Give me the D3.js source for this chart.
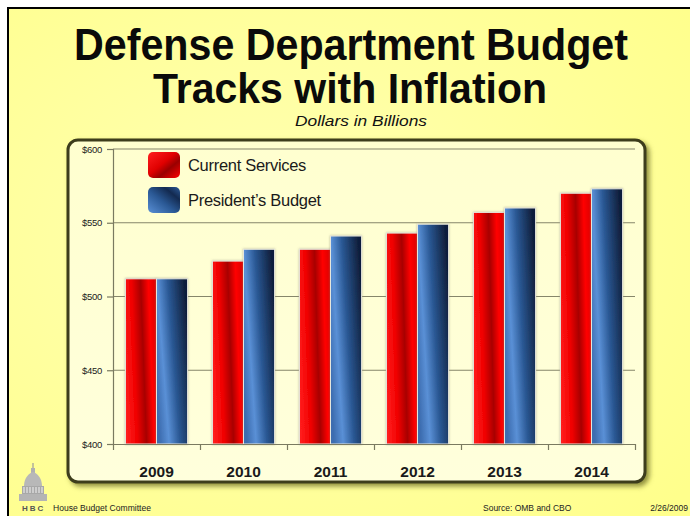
<!DOCTYPE html>
<html>
<head>
<meta charset="utf-8">
<script src="https://cdn.jsdelivr.net/npm/d3@7"></script>
<style>
  body { margin: 0; background: #fff; }
  svg { display: block; font-family: 'Liberation Sans', Arial, sans-serif; }
</style>
</head>
<body>
<svg id="chart" width="690" height="516"></svg>
<script>
const years = ['2009', '2010', '2011', '2012', '2013', '2014'];
const series = ['Current Services', "President\u2019s Budget"];
const currentServices = [512, 524, 532, 543, 557, 570];
const presidentsBudget = [512, 532, 541, 549, 560, 573];
const yTicks = [400, 450, 500, 550, 600];

const svg = d3.select('#chart');
const defs = svg.append('defs');

// slide background
const bg = defs.append('radialGradient').attr('id', 'slideBg').attr('cx', '40%').attr('cy', '45%').attr('r', '75%');
bg.append('stop').attr('offset', '0%').attr('stop-color', '#ffffb4');
bg.append('stop').attr('offset', '100%').attr('stop-color', '#ffff8c');

const panelBg = defs.append('linearGradient').attr('id', 'panelBg').attr('x1', 0).attr('y1', 0).attr('x2', 0).attr('y2', 1);
panelBg.append('stop').attr('offset', '0%').attr('stop-color', '#ffffcf');
panelBg.append('stop').attr('offset', '100%').attr('stop-color', '#ffffdc');

const redGrad = defs.append('linearGradient').attr('id', 'redGrad')
  .attr('x1', 0).attr('y1', 0.6).attr('x2', 1).attr('y2', 0.4);
[['0%', '#ff1a1a'], ['30%', '#f00000'], ['58%', '#a80000'], ['82%', '#ff0505'], ['100%', '#e40000']]
  .forEach(s => redGrad.append('stop').attr('offset', s[0]).attr('stop-color', s[1]));

const blueGrad = defs.append('linearGradient').attr('id', 'blueGrad')
  .attr('x1', 0).attr('y1', 0.7).attr('x2', 1).attr('y2', 0.3);
[['0%', '#3d6db0'], ['25%', '#5a90d6'], ['55%', '#2a5894'], ['100%', '#101f3c']]
  .forEach(s => blueGrad.append('stop').attr('offset', s[0]).attr('stop-color', s[1]));

const redSw = defs.append('linearGradient').attr('id', 'redSw').attr('x1', 0).attr('y1', 0).attr('x2', 1).attr('y2', 1);
[['0%', '#ff2020'], ['45%', '#e00000'], ['65%', '#9a0000'], ['100%', '#ff0000']]
  .forEach(s => redSw.append('stop').attr('offset', s[0]).attr('stop-color', s[1]));
const blueSw = defs.append('linearGradient').attr('id', 'blueSw').attr('x1', 0).attr('y1', 1).attr('x2', 1).attr('y2', 0);
[['0%', '#5a90d6'], ['45%', '#2a5894'], ['75%', '#132a50'], ['100%', '#2c5a98']]
  .forEach(s => blueSw.append('stop').attr('offset', s[0]).attr('stop-color', s[1]));

const shadow = defs.append('filter').attr('id', 'panelShadow').attr('x', '-5%').attr('y', '-5%').attr('width', '115%').attr('height', '115%');
shadow.append('feDropShadow').attr('dx', 3).attr('dy', 3).attr('stdDeviation', 2.5)
  .attr('flood-color', '#6b6b20').attr('flood-opacity', 0.75);

const barShadow = defs.append('filter').attr('id', 'barShadow').attr('x', '-20%').attr('y', '-5%').attr('width', '140%').attr('height', '110%');
barShadow.append('feDropShadow').attr('dx', 0).attr('dy', 0).attr('stdDeviation', 1.2)
  .attr('flood-color', '#888870').attr('flood-opacity', 0.6);

// slide
svg.append('rect').attr('x', 8).attr('y', 8).attr('width', 690).attr('height', 520)
  .attr('fill', 'url(#slideBg)').attr('stroke', '#000').attr('stroke-width', 2);

// titles
svg.append('text').attr('x', 351).attr('y', 60).attr('text-anchor', 'middle')
  .attr('font-size', 44).attr('font-weight', 'bold').attr('fill', '#0a0a0a')
  .attr('textLength', 554).attr('lengthAdjust', 'spacingAndGlyphs')
  .text('Defense Department Budget');
svg.append('text').attr('x', 350).attr('y', 103).attr('text-anchor', 'middle')
  .attr('font-size', 42).attr('font-weight', 'bold').attr('fill', '#0a0a0a')
  .attr('textLength', 394).attr('lengthAdjust', 'spacingAndGlyphs')
  .text('Tracks with Inflation');
svg.append('text').attr('x', 361).attr('y', 125.5).attr('text-anchor', 'middle')
  .attr('font-size', 14).attr('font-style', 'italic').attr('fill', '#111')
  .attr('textLength', 132).attr('lengthAdjust', 'spacingAndGlyphs')
  .text('Dollars in Billions');

// chart panel
svg.append('rect').attr('x', 68).attr('y', 140).attr('width', 577).attr('height', 342)
  .attr('rx', 10).attr('fill', 'url(#panelBg)').attr('stroke', '#3c3c1c').attr('stroke-width', 3)
  .attr('filter', 'url(#panelShadow)');

const margin = { left: 113, right: 635, top: 149, bottom: 444 };

const x = d3.scaleBand().domain(years).range([margin.left, margin.right]).padding(0);
const xSub = d3.scaleBand().domain(series).range([0, x.bandwidth()]).paddingInner(0).paddingOuter(0.4);
const y = d3.scaleLinear().domain([400, 600]).range([margin.bottom, margin.top]);

const g = svg.append('g');

// gridlines
g.append('g').selectAll('line').data(yTicks.filter(d => d > 400)).enter().append('line')
  .attr('x1', margin.left).attr('x2', margin.right)
  .attr('y1', d => y(d)).attr('y2', d => y(d))
  .attr('stroke', '#86866a').attr('stroke-width', 1.2);

// bars
const rows = years.map((yr, i) => ({ year: yr, values: [currentServices[i], presidentsBudget[i]] }));
const groups = g.selectAll('.yr').data(rows).enter().append('g')
  .attr('transform', d => `translate(${x(d.year)},0)`);
groups.selectAll('rect').data(d => d.values.map((v, j) => ({ key: series[j], v, j }))).enter().append('rect')
  .attr('x', d => xSub(d.key))
  .attr('y', d => y(d.v))
  .attr('width', xSub.bandwidth())
  .attr('height', d => y(400) - y(d.v))
  .attr('fill', d => d.j === 0 ? 'url(#redGrad)' : 'url(#blueGrad)')
  .attr('stroke', '#e6e6dc').attr('stroke-width', 1)
  .attr('filter', 'url(#barShadow)');

// y axis
const yAxis = g.append('g').attr('transform', `translate(${margin.left},0)`)
  .call(d3.axisLeft(y).tickValues(yTicks).tickFormat(d => '$' + d).tickSize(6).tickPadding(5));
yAxis.select('.domain').attr('stroke', '#7a7a60').attr('stroke-width', 1.2);
yAxis.selectAll('.tick line').attr('stroke', '#7a7a60').attr('stroke-width', 1.2);
yAxis.selectAll('.tick text').attr('font-size', 9.5).attr('fill', '#222')
  .attr('font-family', "'Liberation Sans', Arial, sans-serif").attr('letter-spacing', -0.3);

// x axis: tick marks at band edges, labels at band centers
const xEdge = d3.scaleLinear().domain([0, years.length]).range([margin.left, margin.right]);
const xTickAxis = g.append('g').attr('transform', `translate(0,${margin.bottom})`)
  .call(d3.axisBottom(xEdge).ticks(years.length).tickFormat('').tickSize(6).tickSizeOuter(0));
xTickAxis.select('.domain').attr('stroke', '#7a7a60').attr('stroke-width', 1.2);
xTickAxis.selectAll('.tick line').attr('stroke', '#7a7a60').attr('stroke-width', 1.2);

const xAxis = g.append('g').attr('transform', `translate(0,${margin.bottom})`)
  .call(d3.axisBottom(x).tickSize(0).tickPadding(22));
xAxis.select('.domain').remove();
xAxis.selectAll('.tick text').attr('font-size', 15.5).attr('font-weight', 'bold').attr('fill', '#1a1a1a')
  .attr('font-family', "'Liberation Sans', Arial, sans-serif");

// legend
const legend = svg.append('g').attr('transform', 'translate(148,152)');
series.forEach((s, i) => {
  const row = legend.append('g').attr('transform', `translate(0,${i * 35})`);
  row.append('rect').attr('width', 32).attr('height', 26).attr('rx', 5)
    .attr('fill', i === 0 ? 'url(#redSw)' : 'url(#blueSw)');
  row.append('text').attr('x', 40).attr('y', 18.5).attr('font-size', 16.5).attr('fill', '#1a1a1a')
    .attr('letter-spacing', -0.3).text(s);
});

// footer: capitol icon
const cap = svg.append('g').attr('transform', 'translate(33,0)').attr('fill', '#9c9c9c');
cap.append('rect').attr('x', -0.6).attr('y', 463).attr('width', 1.2).attr('height', 6);
cap.append('rect').attr('x', -2).attr('y', 468).attr('width', 4).attr('height', 5).attr('fill', '#b0b0b0');
cap.append('path').attr('d', 'M-9,486 C-9,478 -4,473 0,472 C4,473 9,478 9,486 Z').attr('fill', '#b8b8b8');
cap.append('rect').attr('x', -11).attr('y', 486).attr('width', 22).attr('height', 8).attr('fill', '#a8a8a8');
cap.append('rect').attr('x', -14).attr('y', 494).attr('width', 28).attr('height', 7).attr('fill', '#b4b4b4');
d3.range(-9, 10, 3).forEach(cx => cap.append('rect').attr('x', cx - 0.6).attr('y', 487).attr('width', 1.2).attr('height', 6).attr('fill', '#e6e6e6'));

svg.append('text').attr('x', 22).attr('y', 511).attr('font-size', 8).attr('font-weight', 'bold')
  .attr('fill', '#555').attr('letter-spacing', 2).text('HBC');
svg.append('text').attr('x', 53).attr('y', 511).attr('font-size', 8.5).attr('fill', '#222')
  .attr('textLength', 98).attr('lengthAdjust', 'spacingAndGlyphs').text('House Budget Committee');
svg.append('text').attr('x', 483).attr('y', 511).attr('font-size', 8.5).attr('fill', '#222')
  .text('Source: OMB and CBO');
svg.append('text').attr('x', 688).attr('y', 511).attr('text-anchor', 'end').attr('font-size', 8.5).attr('fill', '#222')
  .text('2/26/2009');
</script>
</body>
</html>
